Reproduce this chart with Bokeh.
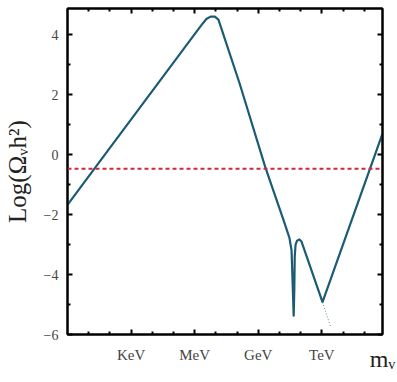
from bokeh.plotting import figure
from bokeh.models import LinearAxis, FixedTicker, Range1d, Span
from bokeh.embed import file_html
from bokeh.resources import INLINE

# log10(m_nu / eV) and log10(Omega_nu h^2)
log_mass = [0.0, 1.64, 5.78, 6.3, 6.55, 6.75, 6.95, 7.12, 8.12, 9.33, 10.2, 10.47,
            10.57, 10.63, 10.67, 10.70, 10.72, 10.76, 10.83, 10.94, 11.04, 12.03, 14.86]
log_omega = [-1.68, -0.12, 3.81, 4.3, 4.52, 4.6, 4.6, 4.5, 2.37, -0.42, -2.2, -2.78,
             -3.2, -4.5, -5.37, -4.5, -3.4, -3.0, -2.87, -2.83, -2.9, -4.92, 0.7]
tail_mass = [12.03, 12.42]
tail_omega = [-4.92, -5.76]
closure_level = -0.47

x_major = [3, 6, 9, 12]
x_minor = [1, 2, 4, 5, 7, 8, 10, 11, 13, 14]
x_labels = ["KeV", "MeV", "GeV", "TeV"]
y_major = [-6, -4, -2, 0, 2, 4]
y_minor = [-5, -3, -1, 1, 3]
y_labels = ["\u22126", "\u22124", "\u22122", "0", "2", "4"]
y_title = "Log(\u03a9\u1d65h\u00b2)"
x_title = "m\u1d65"

SERIF = "Liberation Serif"
CURVE = "#1b5b73"

p = figure(width=397, height=382, x_range=Range1d(0, 14.86), y_range=Range1d(-6, 4.87),
           min_border_left=65, min_border_right=15, min_border_top=8, min_border_bottom=48,
           output_backend="svg", toolbar_location=None)
p.xgrid.visible = False
p.ygrid.visible = False
p.outline_line_color = "black"
p.outline_line_width = 2
p.background_fill_color = "white"
p.border_fill_color = "white"

xt = FixedTicker(ticks=x_major, minor_ticks=x_minor)
yt = FixedTicker(ticks=y_major, minor_ticks=y_minor)


def style(ax, show):
    ax.axis_line_color = "black"
    ax.axis_line_width = 2
    ax.major_tick_in = 5
    ax.major_tick_out = 0
    ax.minor_tick_in = 3
    ax.minor_tick_out = 0
    ax.major_tick_line_width = 2
    ax.minor_tick_line_width = 2
    ax.major_tick_line_color = "black"
    ax.minor_tick_line_color = "black"
    if not show:
        ax.major_label_text_font_size = "0px"
        ax.major_label_standoff = 0


xa = p.xaxis[0]
xa.ticker = xt
style(xa, True)
xa.major_label_overrides = {t: l for t, l in zip(x_major, x_labels)}
xa.major_label_text_font = SERIF
xa.major_label_text_font_size = "15px"
xa.major_label_text_color = "#444444"
xa.major_label_standoff = 12
xa.axis_label = x_title
xa.axis_label_text_font = SERIF
xa.axis_label_text_font_style = "normal"
xa.axis_label_text_font_size = "24px"
xa.axis_label_text_color = "#222222"
xa.axis_label_standoff = -20
xa.axis_label_align = "end"

ya = p.yaxis[0]
ya.ticker = yt
style(ya, True)
ya.major_label_overrides = {t: l for t, l in zip(y_major, y_labels)}
ya.major_label_text_font = SERIF
ya.major_label_text_font_size = "14px"
ya.major_label_text_color = "#444444"
ya.major_label_standoff = 9
ya.axis_label = y_title
ya.axis_label_text_font = SERIF
ya.axis_label_text_font_style = "normal"
ya.axis_label_text_font_size = "25px"
ya.axis_label_text_color = "#222222"
ya.axis_label_standoff = 10

top = LinearAxis(ticker=xt)
style(top, False)
p.add_layout(top, "above")
right = LinearAxis(ticker=yt)
style(right, False)
p.add_layout(right, "right")

p.add_layout(Span(location=closure_level, dimension="width", line_color="#d0283a",
                  line_width=2, line_dash="4 3"))
p.line(log_mass, log_omega, line_color=CURVE, line_width=2.2, line_join="round")
p.line(tail_mass, tail_omega, line_color="#5a8aa0", line_width=1, line_dash="1 2")

open("out.html", "w").write(file_html(p, INLINE))
